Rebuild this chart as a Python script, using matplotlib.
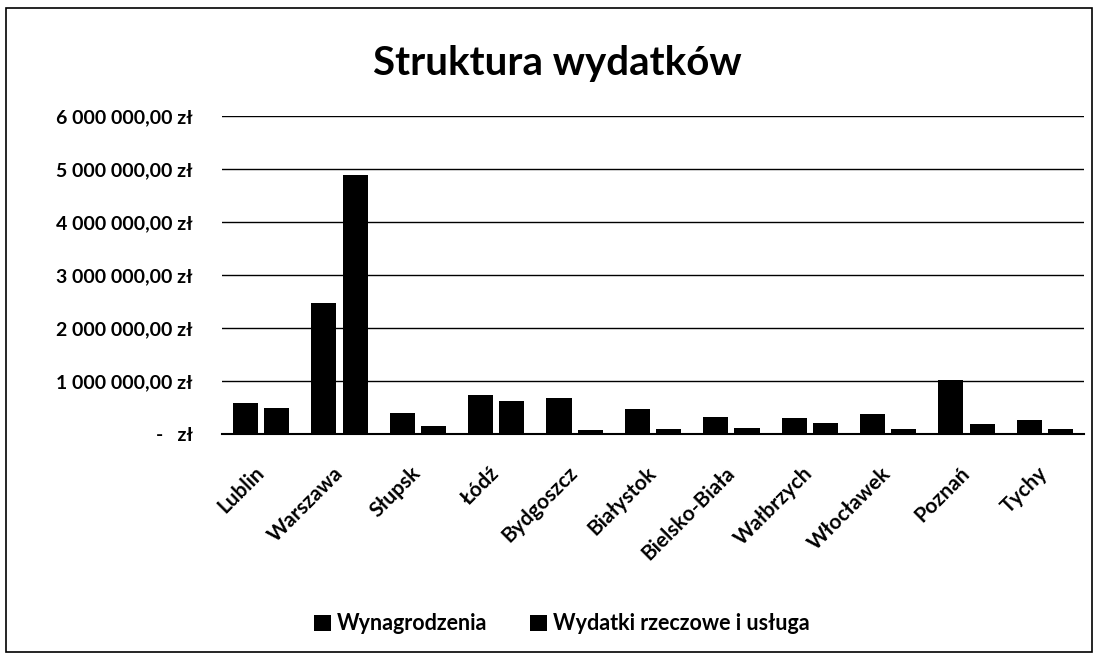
import matplotlib
matplotlib.use("Agg")
import matplotlib.pyplot as plt
import numpy as np
from matplotlib.patches import Rectangle

categories = ["Lublin", "Warszawa", "Słupsk", "Łódź", "Bydgoszcz", "Białystok",
              "Bielsko-Biała", "Wałbrzych", "Włocławek", "Poznań", "Tychy"]
wynagrodzenia = [580000, 2480000, 400000, 730000, 680000, 480000,
                 330000, 310000, 370000, 1020000, 270000]
wydatki = [485000, 4880000, 150000, 620000, 80000, 100000,
           120000, 200000, 100000, 190000, 100000]
series_names = ["Wynagrodzenia", "Wydatki rzeczowe i usługa"]
yticks = [0, 1000000, 2000000, 3000000, 4000000, 5000000, 6000000]

plt.rcParams['font.family'] = ['Lato', 'DejaVu Sans']

fig = plt.figure(figsize=(10.96, 6.55), dpi=100)
ax = fig.add_axes([222/1096, 1 - 434/655, (1084-222)/1096, (434-116)/655])

x = np.arange(len(categories))
w = 0.32
ax.bar(x - 0.2, wynagrodzenia, width=w, color="black", label=series_names[0], zorder=3)
ax.bar(x + 0.2, wydatki, width=w, color="black", label=series_names[1], zorder=3)

ax.set_xlim(-0.5, len(categories) - 0.5)
ax.set_ylim(0, 6000000)
ax.set_yticks(yticks)

def fmt(v):
    if v == 0:
        return "-   zł"
    s = f"{int(v):,}".replace(",", " ")
    return s + ",00 zł"

ax.set_yticklabels([fmt(v) for v in yticks], fontsize=14, fontweight='bold')
ax.tick_params(axis='y', length=0, pad=21)
ax.set_xticks(x)
ax.set_xticklabels(categories, rotation=45, ha='right', va='center',
                   rotation_mode='anchor', fontsize=15, fontweight='bold')
ax.tick_params(axis='x', length=0, pad=26)

ax.grid(axis='y', color='black', linewidth=1.0, zorder=0)
for s in ['left', 'right', 'top']:
    ax.spines[s].set_visible(False)
ax.spines['bottom'].set_color('black')
ax.spines['bottom'].set_linewidth(1.5)

fig.text(557/1096, 1 - 75/655, "Struktura wydatków", ha='center', va='baseline',
         fontsize=29, fontweight='bold')

leg = fig.legend(loc='center', bbox_to_anchor=(562/1096, 1 - 624/655), ncol=2,
                 frameon=False, prop={'size': 15.5, 'weight': 'bold'},
                 handlelength=0.75, handleheight=0.75,
                 columnspacing=2.0, handletextpad=0.3)

fig.patches.append(Rectangle((6/1096, 3/655), 1086/1096, 644/655, transform=fig.transFigure,
                             fill=False, edgecolor='black', linewidth=1.2))

fig.savefig("out.png", dpi=100)
